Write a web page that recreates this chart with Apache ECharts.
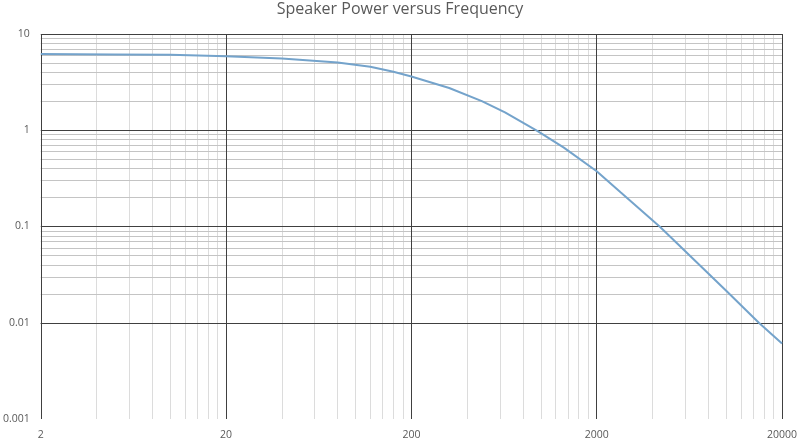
<!DOCTYPE html>
<html>
<head>
<meta charset="utf-8">
<script src="https://cdn.jsdelivr.net/npm/echarts@6/dist/echarts.min.js"></script>
<style>
html,body{margin:0;padding:0;background:#fff;}
#chart{width:800px;height:441px;}
</style>
</head>
<body>
<div id="chart"></div>
<script>
// Data
const frequency = [2, 5, 10, 20, 40, 80, 120, 160, 200, 320, 480, 640, 960, 1330, 2000, 2700, 4400, 10000, 15000, 20000];
const power     = [6.2, 6.14, 6.07, 5.89, 5.58, 5.06, 4.56, 4.05, 3.62, 2.75, 2.01, 1.53, 0.98, 0.66, 0.375, 0.225, 0.099, 0.0215, 0.01, 0.0061];

// Tick values and labels
const xTicks = [2, 20, 200, 2000, 20000];
const xTickLabels = ['2', '20', '200', '2000', '20000'];
const yTicks = [0.001, 0.01, 0.1, 1, 10];
const yTickLabels = ['0.001', '0.01', '0.1', '1', '10'];
const minorMultipliers = [2, 3, 4, 5, 6, 7, 8, 9];

const seriesData = frequency.map((f, i) => [f, power[i]]);

function labelFor(v, ticks, labels) {
  for (let i = 0; i < ticks.length; i++) {
    if (Math.abs(Math.log10(v) - Math.log10(ticks[i])) < 1e-6) return labels[i];
  }
  return '';
}

const minorX = [];
for (let i = 0; i < xTicks.length - 1; i++) {
  minorMultipliers.forEach(m => minorX.push(xTicks[i] * m));
}
const minorY = [];
for (let i = 0; i < yTicks.length - 1; i++) {
  minorMultipliers.forEach(m => minorY.push(yTicks[i] * m));
}

const lineBase = { symbol: ['none', 'none'], silent: true, label: { show: false }, animation: false };

const chart = echarts.init(document.getElementById('chart'), null, { renderer: 'canvas' });
chart.setOption({
  animation: false,
  backgroundColor: '#ffffff',
  title: {
    text: 'Speaker Power versus Frequency',
    left: 'center',
    top: 1,
    padding: 0,
    textStyle: { fontFamily: 'Open Sans', fontSize: 16, fontWeight: 'normal', color: '#595959' }
  },
  grid: { left: 38, right: 14, top: 34, bottom: 20, containLabel: false },
  xAxis: {
    type: 'log', logBase: 10, min: 2, max: 20000,
    axisLine: { show: false },
    axisTick: { show: false },
    splitLine: { show: false },
    axisLabel: {
      customValues: xTicks,
      margin: 11,
      fontFamily: 'Open Sans', fontSize: 10.5, color: '#595959',
      formatter: v => labelFor(v, xTicks, xTickLabels)
    }
  },
  yAxis: {
    type: 'log', logBase: 10, min: 0.001, max: 10,
    axisLine: { show: false },
    axisTick: { show: false },
    splitLine: { show: false },
    axisLabel: {
      customValues: yTicks,
      margin: 11,
      fontFamily: 'Open Sans', fontSize: 10.5, color: '#595959',
      formatter: v => labelFor(v, yTicks, yTickLabels)
    }
  },
  series: [
    {
      type: 'line', data: [], z: 1,
      markLine: Object.assign({}, lineBase, {
        lineStyle: { color: '#dcdcdc', width: 1, type: 'solid' },
        data: minorX.map(v => ({ xAxis: v }))
      })
    },
    {
      type: 'line', data: [], z: 2,
      markLine: Object.assign({}, lineBase, {
        lineStyle: { color: '#c4c4c4', width: 1, type: 'solid' },
        data: minorY.map(v => ({ yAxis: v }))
      })
    },
    {
      type: 'line', data: [], z: 3,
      markLine: Object.assign({}, lineBase, {
        lineStyle: { color: '#404040', width: 1, type: 'solid' },
        data: xTicks.map(v => ({ xAxis: v })).concat(yTicks.map(v => ({ yAxis: v })))
      })
    },
    {
      name: 'Power',
      type: 'line',
      z: 5,
      data: seriesData,
      symbol: 'none',
      smooth: false,
      lineStyle: { color: '#74a3cb', width: 2 }
    }
  ]
});
</script>
</body>
</html>
